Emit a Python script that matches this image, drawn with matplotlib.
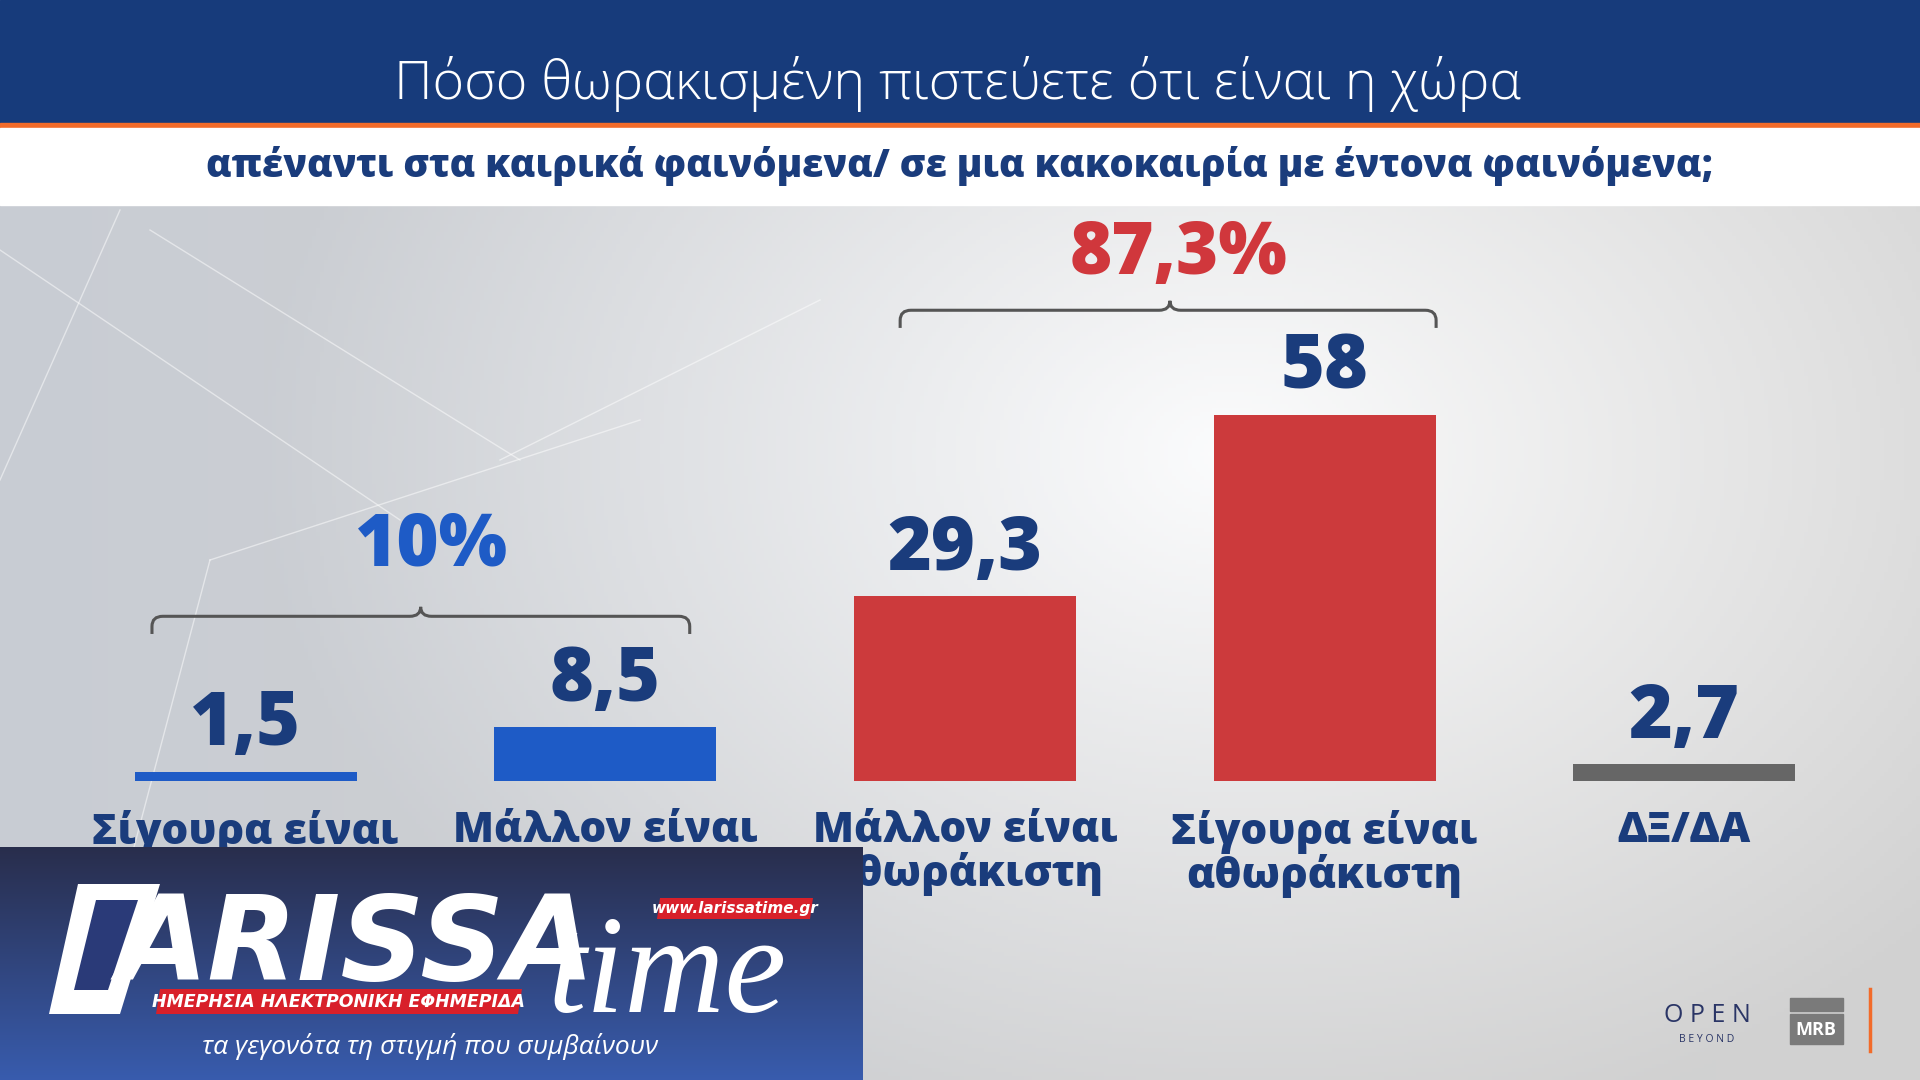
import numpy as np
import matplotlib
matplotlib.use("Agg")
import matplotlib.pyplot as plt
from matplotlib.patches import Rectangle, PathPatch, Polygon
from matplotlib.path import Path

# ---------------- data ----------------
categories = ["Σίγουρα είναι\nθωρακισμένη", "Μάλλον είναι\nθωρακισμένη",
              "Μάλλον είναι\nαθωράκιστη", "Σίγουρα είναι\nαθωράκιστη", "ΔΞ/ΔΑ"]
values = [1.5, 8.5, 29.3, 58, 2.7]
value_labels = ["1,5", "8,5", "29,3", "58", "2,7"]
group_labels = ["10%", "87,3%"]
group_members = [(0, 1), (2, 3)]

title = "Πόσο θωρακισμένη πιστεύετε ότι είναι η χώρα"
subtitle = "απέναντι στα καιρικά φαινόμενα/ σε μια κακοκαιρία με έντονα φαινόμενα;"

# ---------------- style ----------------
NAVY = "#1a3c7c"
BLUE = "#1e5bc6"
RED = "#cc3a3c"
GREY = "#666666"
bar_colors = [BLUE, BLUE, RED, RED, GREY]
group_colors = [BLUE, "#d0373c"]
FONT = ["Open Sans", "Noto Sans", "DejaVu Sans"]
plt.rcParams["font.family"] = FONT

W, H = 1920, 1080
fig = plt.figure(figsize=(19.2, 10.8), dpi=100)

# ---------------- background ----------------
bg = fig.add_axes([0, 0, 1, 1], zorder=0)
bg.set_xlim(0, W)
bg.set_ylim(H, 0)
bg.axis("off")
yy, xx = np.mgrid[0:1:270j, 0:1:480j]
d = np.sqrt(((xx - 0.64) * 1.3) ** 2 + ((yy - 0.42) * 1.0) ** 2)
v = np.clip(0.99 - 0.26 * d, 0.82, 0.99)
img = np.dstack([v - 0.035 * (1 - xx) ** 2, v - 0.018 * (1 - xx) ** 2, v + 0.01 * (1 - xx) ** 2])
img = np.clip(img, 0, 1)
bg.imshow(img, extent=[0, W, H, 0], aspect="auto", zorder=0)
# subtle decorative lines
for (x0, y0, x1, y1) in [(0, 250, 400, 520), (120, 210, 0, 480), (150, 230, 520, 460),
                         (210, 560, 640, 420), (210, 560, 120, 900), (500, 460, 820, 300)]:
    bg.plot([x0, x1], [y0, y1], color="white", lw=1.0, alpha=0.5, zorder=1)

# header
bg.add_patch(Rectangle((0, 0), W, 123, color="#173b7b", zorder=2))
bg.add_patch(Rectangle((0, 123), W, 5, color="#f26b2a", zorder=2))
bg.add_patch(Rectangle((0, 128), W, 77, color="white", zorder=2))
bg.text(958, 84, title, color="white", fontsize=38.8, ha="center", va="center",
        fontweight="light", zorder=3)
bg.text(960, 166, subtitle, color=NAVY, fontsize=27.5, ha="center", va="center",
        fontweight="heavy", zorder=3)

# bottom-right logos
bg.text(1707, 1016, "O P E N", color="#2a3566", fontsize=18, ha="center", va="center", zorder=3)
bg.text(1707, 1039, "B E Y O N D", color="#2a3566", fontsize=7.5, ha="center", va="center", zorder=3)
bg.add_patch(Rectangle((1790, 998), 53, 13, color="#7a7a7a", zorder=3))
bg.add_patch(Rectangle((1790, 1014), 53, 30, color="#7a7a7a", zorder=3))
bg.text(1816, 1030, "MRB", color="white", fontsize=13, fontweight="bold", ha="center",
        va="center", zorder=4)
bg.plot([1870, 1870], [989, 1051], color="#f26b2a", lw=2.5, zorder=3)

# ---------------- bar chart ----------------
base_px, top_px = 781, 205
px_per_unit = (781 - 415) / 58
ymax = (base_px - top_px) / px_per_unit
spacing_px = 359.7
left_px = 245.5 - 0.5 * spacing_px
ax = fig.add_axes([left_px / W, (H - base_px) / H, 5 * spacing_px / W, (base_px - top_px) / H],
                  zorder=2)
ax.patch.set_alpha(0)
ax.set_xlim(-0.5, 4.5)
ax.set_ylim(0, ymax)
for s in ax.spines.values():
    s.set_visible(False)
ax.set_yticks([])

x = np.arange(len(values))
bars = ax.bar(x, values, width=222 / spacing_px, color=bar_colors, zorder=3)
for xi, val, lab in zip(x, values, value_labels):
    ax.annotate(lab, (xi, val), xytext=(0, 19), textcoords="offset points",
                ha="center", va="baseline", fontsize=54, fontweight="heavy", color=NAVY,
                zorder=4)

ax.set_xticks(x)
ax.set_xticklabels(categories, fontsize=30.5, fontweight="heavy", color=NAVY, linespacing=1.0)
ax.tick_params(axis="x", length=0, pad=21)


def brace(ax, x0, x1, xm, y, drop, peak, color):
    rx, ry = 0.03, 1.6
    verts = [(x0, y - drop), (x0, y - ry), (x0, y), (x0 + rx, y),
             (xm - rx, y), (xm, y), (xm, y + peak),
             (xm, y), (xm + rx, y),
             (x1 - rx, y), (x1, y), (x1, y - ry), (x1, y - drop)]
    codes = [Path.MOVETO, Path.LINETO, Path.CURVE3, Path.CURVE3,
             Path.LINETO, Path.CURVE3, Path.CURVE3,
             Path.CURVE3, Path.CURVE3,
             Path.LINETO, Path.CURVE3, Path.CURVE3, Path.LINETO]
    ax.add_patch(PathPatch(Path(verts, codes), fill=False, edgecolor=color, lw=2.2,
                           clip_on=False, zorder=4))


brace_geom = [(-0.26, 1.235, 0.487, 26.1, 8.0), (1.82, 3.31, 2.57, 74.6, 5.8)]
for (x0, x1, xm, y, lift), lab, col in zip(brace_geom, group_labels, group_colors):
    brace(ax, x0, x1, xm, y, 2.8, 1.5, "#555555")
    ax.text((x0 + x1) / 2 + 0.03, y + lift, lab, ha="center", va="baseline",
            fontsize=52, fontweight="heavy", color=col, zorder=4)

# ---------------- overlay logo (watermark) ----------------
lg = fig.add_axes([0, 0, 863 / W, (H - 847) / H], zorder=10)
lg.set_xlim(0, 863)
lg.set_ylim(1080, 847)
lg.axis("off")
gy = np.linspace(0, 1, 100)[:, None]
top_c = np.array([0.16, 0.18, 0.30])
bot_c = np.array([0.22, 0.36, 0.68])
grad = top_c[None, None, :] * (1 - gy[..., None]) + bot_c[None, None, :] * gy[..., None]
grad = np.repeat(grad, 2, axis=1)
lg.imshow(grad, extent=[0, 863, 1080, 847], aspect="auto", zorder=0)
# L block
lg.add_patch(Polygon([(78, 884), (160, 884), (120, 1014), (49, 1014)], closed=True,
                     facecolor="white", zorder=1))
lg.add_patch(Polygon([(96, 900), (138, 900), (108, 990), (74, 990)], closed=True,
                     facecolor="#2a3a78", zorder=1))
lg.text(118, 980, "ARISSA", color="white", fontsize=84, fontweight="bold", style="italic",
        family=["Liberation Sans Narrow", "DejaVu Sans"], ha="left", va="baseline", zorder=2)
lg.text(548, 1012, "time", color="white", fontsize=100, style="italic",
        family=["Liberation Serif", "DejaVu Serif"], ha="left", va="baseline", zorder=2)
lg.add_patch(Polygon([(160, 989), (522, 989), (518, 1014), (156, 1014)], closed=True,
                     facecolor="#d8202a", zorder=3))
lg.text(339, 1002, "ΗΜΕΡΗΣΙΑ ΗΛΕΚΤΡΟΝΙΚΗ ΕΦΗΜΕΡΙΔΑ", color="white", fontsize=12.5,
        fontweight="bold", style="italic", family=["Liberation Sans Narrow", "DejaVu Sans"],
        ha="center", va="center", zorder=4)
lg.add_patch(Polygon([(660, 898), (813, 898), (810, 919), (657, 919)], closed=True,
                     facecolor="#d8202a", zorder=3))
lg.text(735, 908.5, "www.larissatime.gr", color="white", fontsize=11, fontweight="bold",
        style="italic", family=["Liberation Sans Narrow", "DejaVu Sans"],
        ha="center", va="center", zorder=4)
lg.text(430, 1047, "τα γεγονότα τη στιγμή που συμβαίνουν", color="white", fontsize=19,
        style="italic", ha="center", va="center", zorder=4)

fig.savefig("out.png", dpi=100)
